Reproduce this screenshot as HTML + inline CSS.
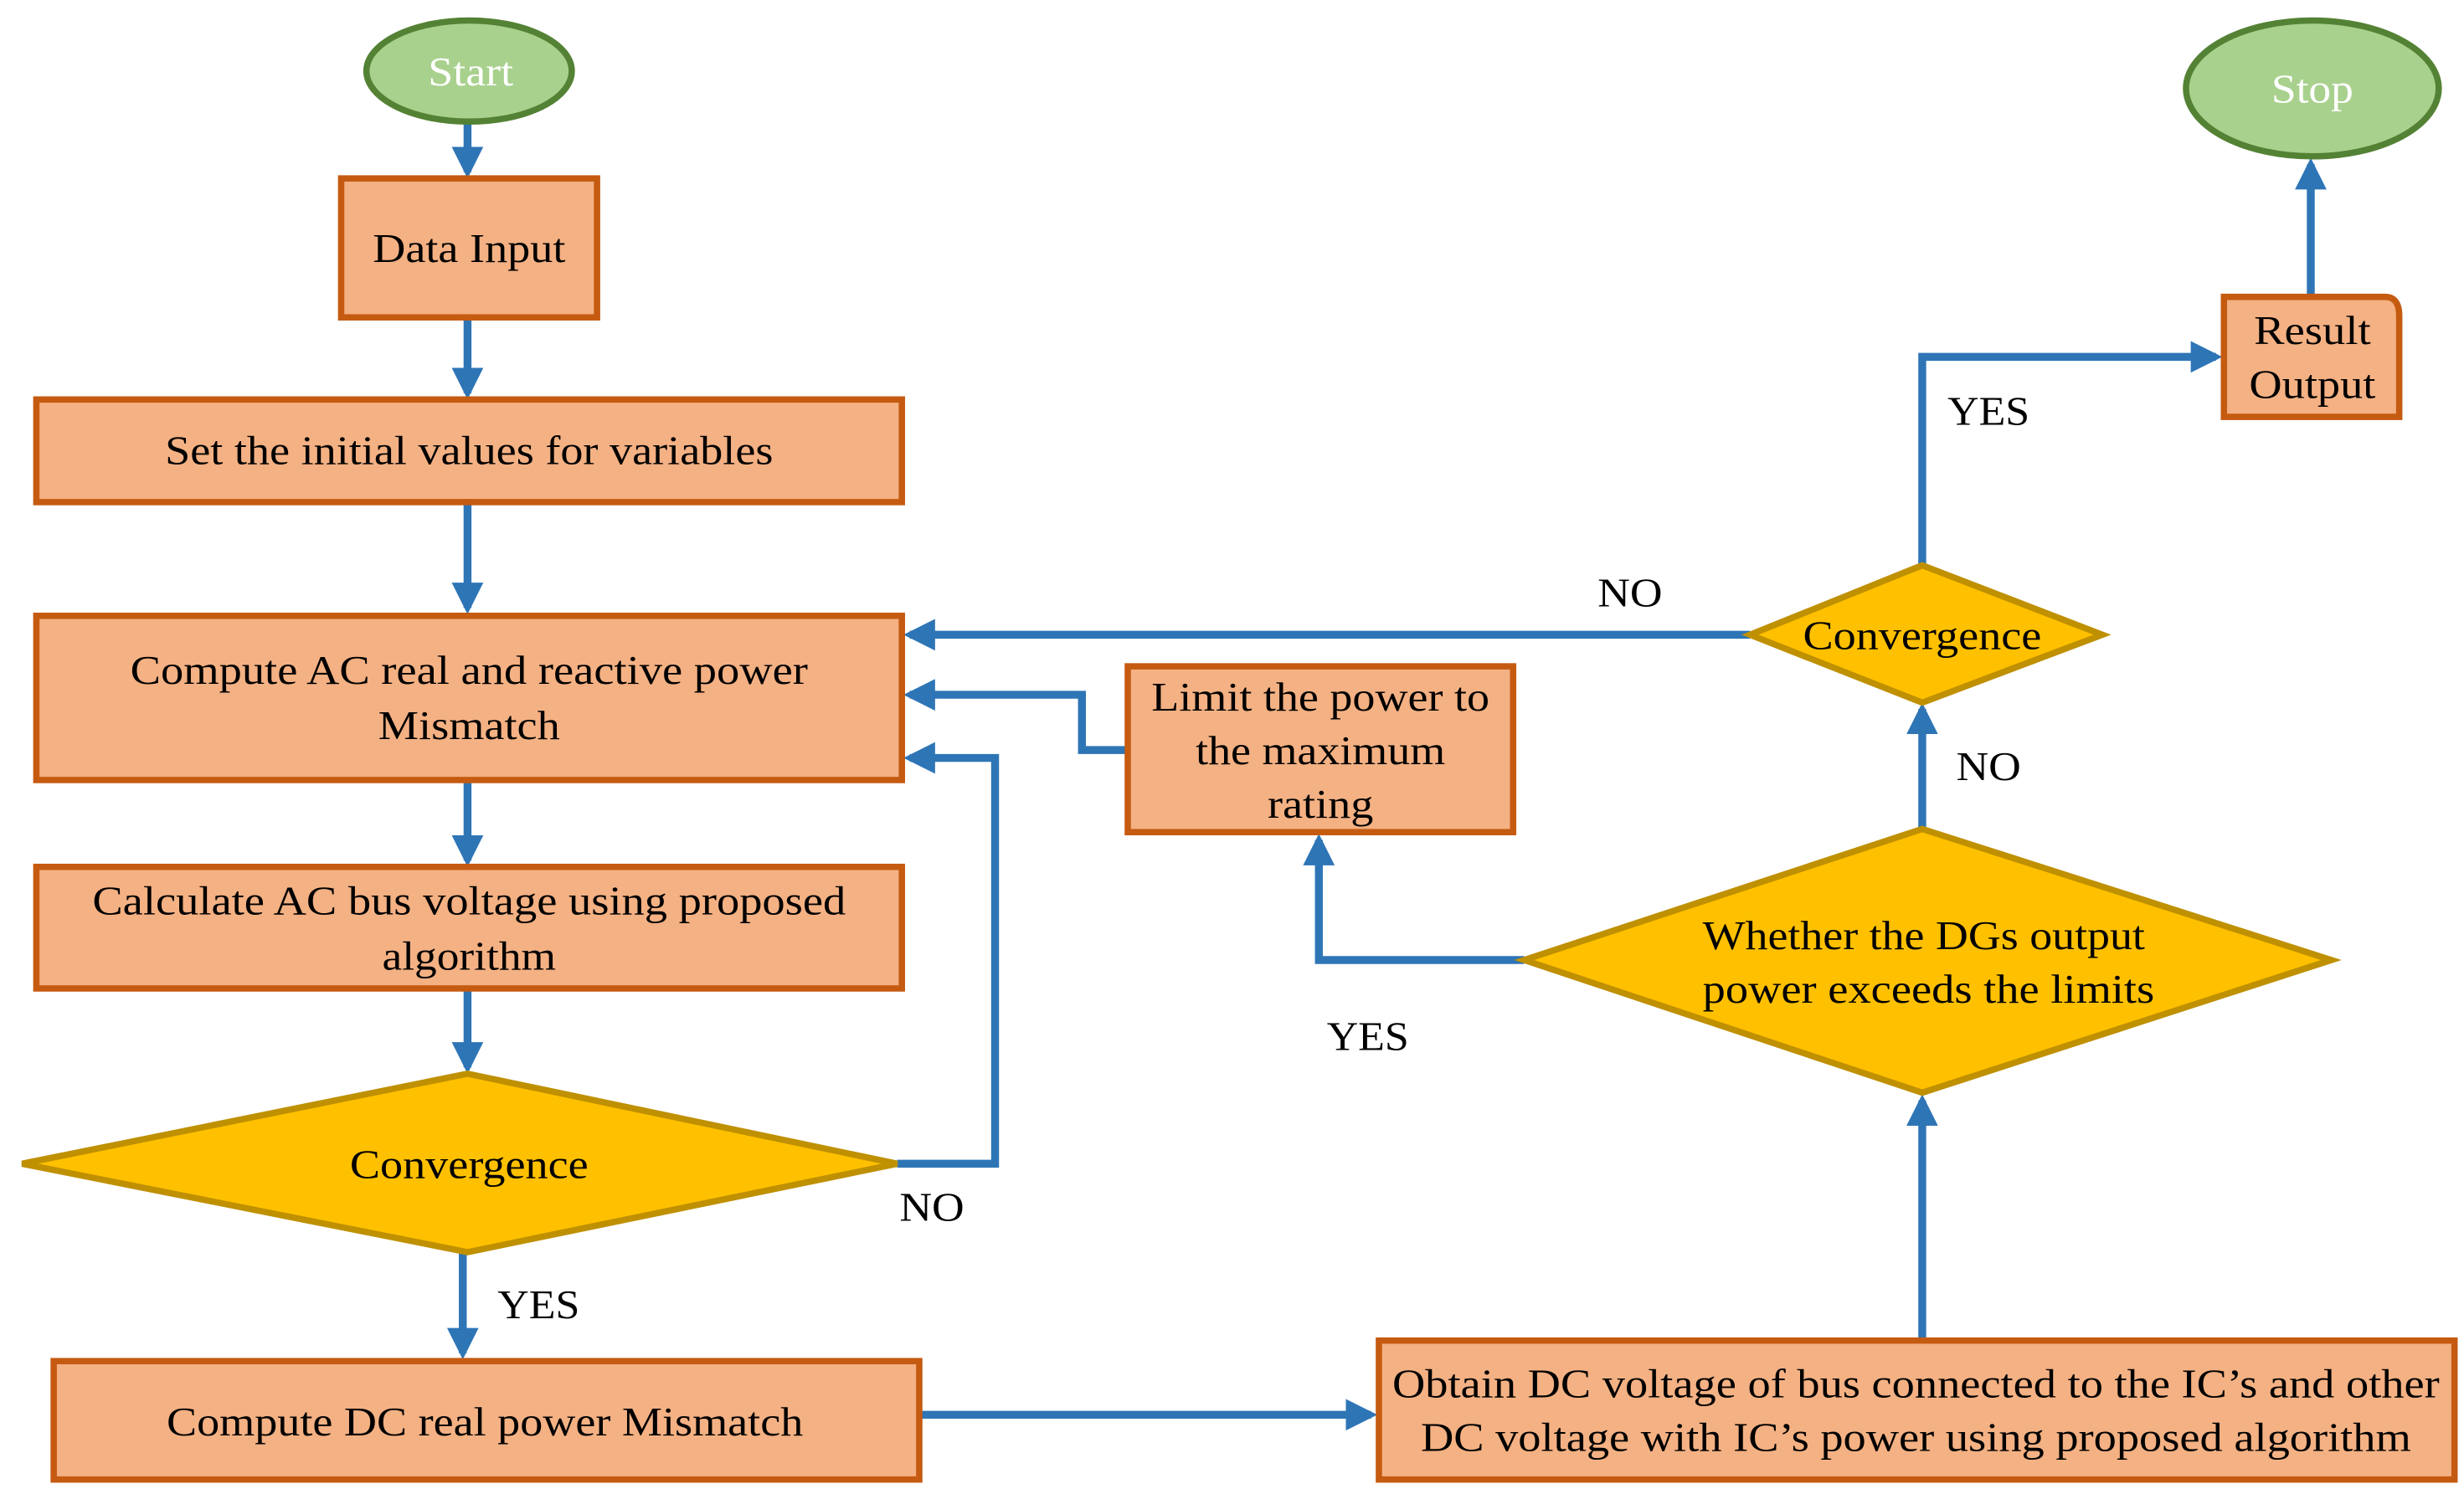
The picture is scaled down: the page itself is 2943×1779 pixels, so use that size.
<!DOCTYPE html>
<html><head><meta charset="utf-8"><style>
html,body{margin:0;padding:0;background:#fff;}
svg{display:block;}
text{font-family:"Liberation Serif",serif;font-size:26px;fill:#000;}
</style></head><body>
<svg width="2943" height="1779" viewBox="0 0 1560 943" preserveAspectRatio="none" xmlns="http://www.w3.org/2000/svg">
<defs>
<marker id="ah" markerWidth="4" markerHeight="4" refX="3.2" refY="2" orient="auto" markerUnits="strokeWidth">
<path d="M0,0 L4,2 L0,4 Z" fill="#2e75b6"/>
</marker>
</defs>
<g fill="none" stroke="#2e75b6" stroke-width="5" stroke-linejoin="miter">
<path d="M296,77 V109" marker-end="url(#ah)"/>
<path d="M296,201 V249" marker-end="url(#ah)"/>
<path d="M296,318 V385" marker-end="url(#ah)"/>
<path d="M296,494 V545" marker-end="url(#ah)"/>
<path d="M296,626 V676" marker-end="url(#ah)"/>
<path d="M568,737 H630 V480 H576" marker-end="url(#ah)"/>
<path d="M293,793 V857" marker-end="url(#ah)"/>
<path d="M582,896 H868" marker-end="url(#ah)"/>
<path d="M1217,849 V697" marker-end="url(#ah)"/>
<path d="M965,608 H835 V532" marker-end="url(#ah)"/>
<path d="M714,475 H685 V440 H576" marker-end="url(#ah)"/>
<path d="M1217,525 V449" marker-end="url(#ah)"/>
<path d="M1108,402 H576" marker-end="url(#ah)"/>
<path d="M1217,358 V226 H1403" marker-end="url(#ah)"/>
<path d="M1463,188 V104" marker-end="url(#ah)"/>
</g>
<g fill="#a9d18e" stroke="#548235" stroke-width="4">
<ellipse cx="297" cy="45" rx="65" ry="32"/>
<ellipse cx="1464" cy="56" rx="80" ry="43"/>
</g>
<g fill="#f4b183" stroke="#c55a11" stroke-width="4">
<rect x="216" y="113" width="162" height="88"/>
<rect x="23" y="253" width="548" height="65"/>
<rect x="23" y="390" width="548" height="104"/>
<rect x="23" y="549" width="548" height="77"/>
<rect x="34" y="862" width="548" height="75"/>
<rect x="873" y="849" width="681" height="88"/>
<rect x="714" y="422" width="244" height="105"/>
<path d="M1408,188 H1510 Q1519,188 1519,200 V264 H1408 Z"/>
</g>
<g fill="#ffc000" stroke="#bf9000" stroke-width="4">
<path d="M14,737 L296,680 L568,737 L296,793 Z"/>
<path d="M965,608 L1217,525 L1476,608 L1217,692 Z"/>
<path d="M1108,402 L1217,358 L1331,402 L1217,445 Z"/>
</g>
<g text-anchor="middle" lengthAdjust="spacingAndGlyphs">
<text x="298" y="54" style="fill:#fff" textLength="54" lengthAdjust="spacingAndGlyphs">Start</text>
<text x="1464" y="65" style="fill:#fff" textLength="52" lengthAdjust="spacingAndGlyphs">Stop</text>
<text x="297" y="166" textLength="122" lengthAdjust="spacingAndGlyphs">Data Input</text>
<text x="297" y="294" textLength="385" lengthAdjust="spacingAndGlyphs">Set the initial values for variables</text>
<text x="297" y="433" textLength="429" lengthAdjust="spacingAndGlyphs">Compute AC real and reactive power</text>
<text x="297" y="468" textLength="115" lengthAdjust="spacingAndGlyphs">Mismatch</text>
<text x="297" y="579" textLength="477" lengthAdjust="spacingAndGlyphs">Calculate AC bus voltage using proposed</text>
<text x="297" y="614" textLength="110" lengthAdjust="spacingAndGlyphs">algorithm</text>
<text x="297" y="746" textLength="151" lengthAdjust="spacingAndGlyphs">Convergence</text>
<text x="307" y="909" textLength="403" lengthAdjust="spacingAndGlyphs">Compute DC real power Mismatch</text>
<text x="1213" y="885" textLength="663" lengthAdjust="spacingAndGlyphs">Obtain DC voltage of bus connected to the IC’s and other</text>
<text x="1213" y="919" textLength="627" lengthAdjust="spacingAndGlyphs">DC voltage with IC’s power using proposed algorithm</text>
<text x="1218" y="601" textLength="280" lengthAdjust="spacingAndGlyphs">Whether the DGs output</text>
<text x="1221" y="635" textLength="286" lengthAdjust="spacingAndGlyphs">power exceeds the limits</text>
<text x="836" y="450" textLength="214" lengthAdjust="spacingAndGlyphs">Limit the power to</text>
<text x="836" y="484" textLength="158" lengthAdjust="spacingAndGlyphs">the maximum</text>
<text x="836" y="518" textLength="67" lengthAdjust="spacingAndGlyphs">rating</text>
<text x="1217" y="411" textLength="151" lengthAdjust="spacingAndGlyphs">Convergence</text>
<text x="1464" y="218" textLength="74" lengthAdjust="spacingAndGlyphs">Result</text>
<text x="1464" y="252" textLength="80" lengthAdjust="spacingAndGlyphs">Output</text>
<text x="590" y="773" textLength="41" lengthAdjust="spacingAndGlyphs">NO</text>
<text x="341" y="835" textLength="52" lengthAdjust="spacingAndGlyphs">YES</text>
<text x="866" y="665" textLength="52" lengthAdjust="spacingAndGlyphs">YES</text>
<text x="1259" y="494" textLength="41" lengthAdjust="spacingAndGlyphs">NO</text>
<text x="1032" y="384" textLength="41" lengthAdjust="spacingAndGlyphs">NO</text>
<text x="1259" y="269" textLength="52" lengthAdjust="spacingAndGlyphs">YES</text>
</g>
</svg>
</body></html>
